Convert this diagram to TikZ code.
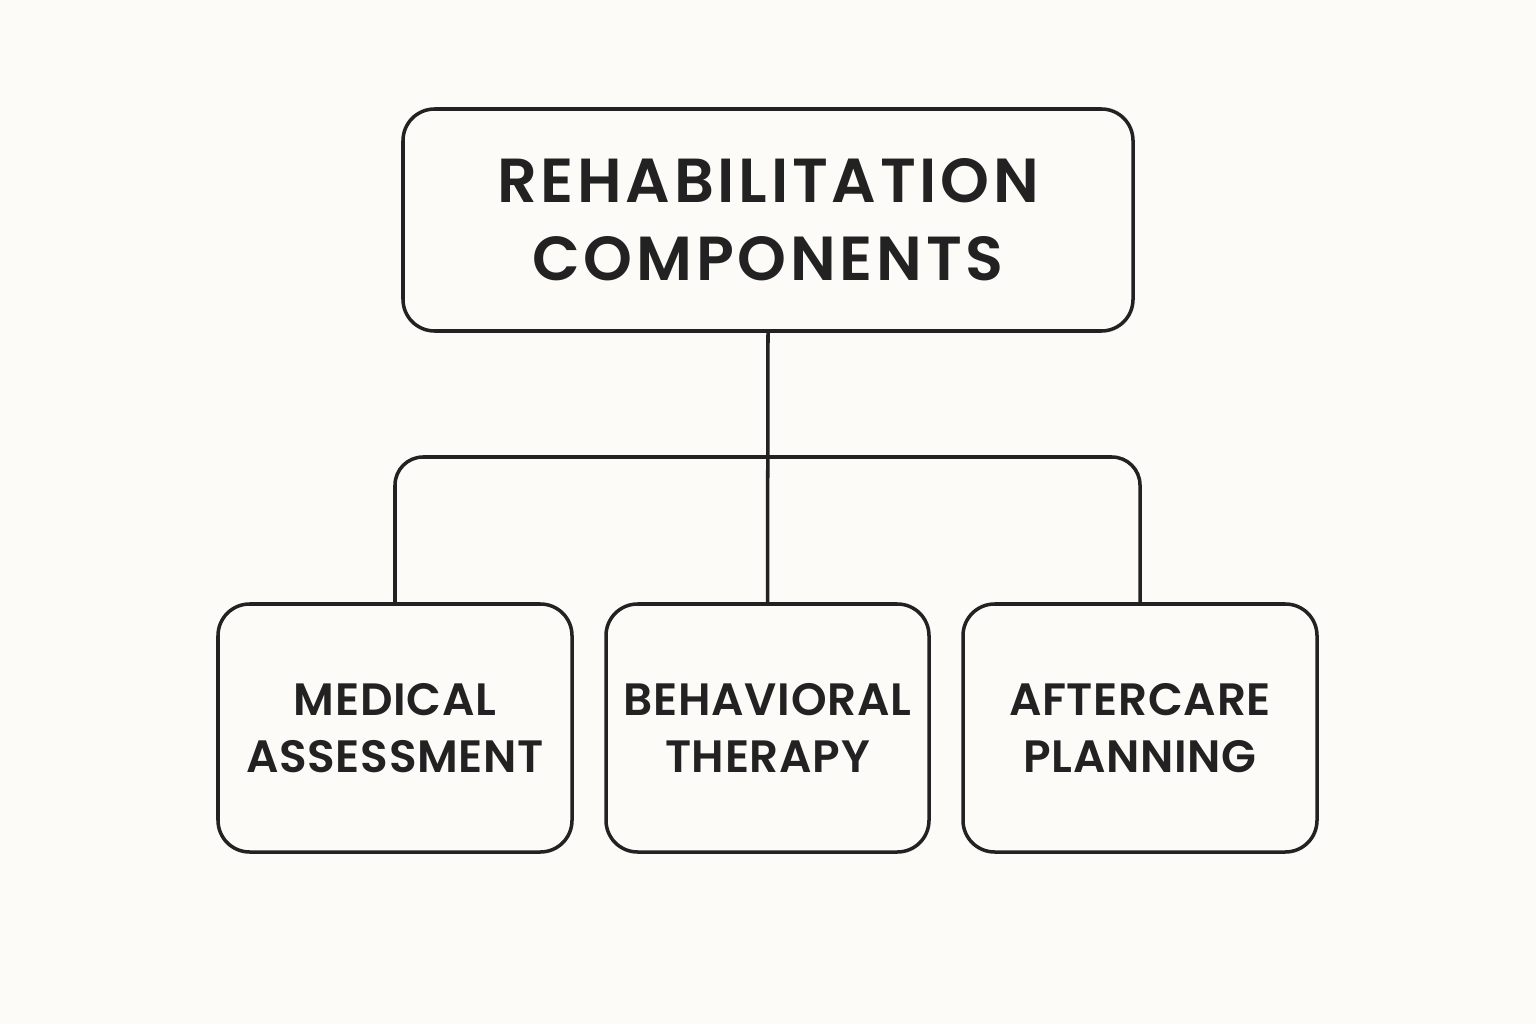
\documentclass[tikz,border=0pt]{standalone}
\usepackage{fontspec}
\setmainfont{Poppins}
\newfontfamily\headfont{Poppins SemiBold}[LetterSpace=6]
\newfontfamily\partfont{Poppins SemiBold}[LetterSpace=1.5]
\definecolor{paper}{HTML}{FCFBF7}
\definecolor{ink}{HTML}{222222}
\tikzstyle{box}=[draw=ink,rectangle,rounded corners=9pt,line width=1pt,
                 text=ink,align=center,inner sep=0pt]
\tikzstyle{head}=[box,minimum width=7.3cm,minimum height=2.22cm,
                  font=\fontsize{17.7}{22.2}\headfont]
\tikzstyle{part}=[box,minimum height=2.48cm,
                  font=\fontsize{12.9}{16.2}\partfont]

\begin{document}
\begin{tikzpicture}[thick]
  \useasboundingbox[fill=paper] (0,0) rectangle (15.36,10.24);

  \node[head] (rehab) at (7.68,8.04) {REHABILITATION\\COMPONENTS};

  \node[part,minimum width=3.54cm] (medical) at (3.95,2.96) {MEDICAL\\ASSESSMENT};
  \node[part,minimum width=3.23cm] (behav) at (7.675,2.96) {BEHAVIORAL\\THERAPY};
  \node[part,minimum width=3.54cm] (after) at (11.40,2.96) {AFTERCARE\\PLANNING};

  \coordinate (bar) at (7.68,5.67);

  \draw[ink,line width=1pt] (rehab.south) -- (behav.north);
  \draw[ink,line width=1pt,rounded corners=8pt] (medical.north) |- (bar) -| (after.north);

\end{tikzpicture}
\end{document}
